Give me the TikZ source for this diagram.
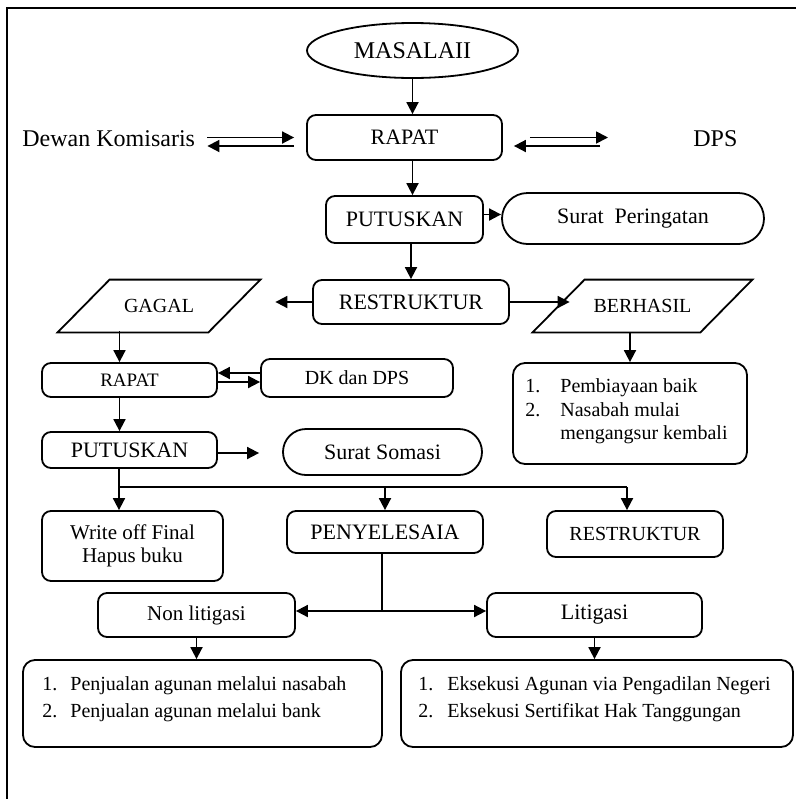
\documentclass[tikz,border=0pt]{standalone}
\usepackage{fontspec}
\setmainfont{Liberation Serif}
\usetikzlibrary{arrows.meta,calc,shapes.geometric,shapes.misc}

\begin{document}
\begin{tikzpicture}[x=0.5pt,y=-0.5pt,
  line/.style={line width=0.9pt},
  arr/.style={line width=0.9pt,-{Triangle[length=6pt,width=6pt]}},
  box/.style={draw,line width=0.9pt,rounded corners=4.5pt,inner sep=0pt,align=center,font=\fontsize{11}{11.7}\selectfont},
  pill/.style={draw,line width=0.9pt,rounded rectangle,inner sep=0pt,font=\fontsize{11}{13}\selectfont},
  listbox/.style={draw,line width=0.9pt,rounded corners=6pt,inner sep=0pt},
  paratext/.style={inner sep=0pt,font=\fontsize{10}{12}\selectfont},
  item/.style={anchor=base west,inner sep=0pt,font=\fontsize{10}{12}\selectfont},
  side/.style={anchor=base west,inner sep=0pt,font=\fontsize{12}{14}\selectfont}]

\path[use as bounding box] (0,0) rectangle (796,799);
\draw[line] (7,799) -- (7,8) -- (796,8);

\node[draw,ellipse,line width=0.9pt,inner sep=0pt,minimum width=105.5pt,minimum height=27.5pt,font=\fontsize{12}{14}\selectfont] (masalah) at (412.5,50.5) {MASALAII};
\node[box,minimum width=97.5pt,minimum height=22.5pt] (rapat1) at (404.5,137.5) {RAPAT};
\node[side] (dewan) at (22,146.7) {Dewan Komisaris};
\node[side] (dps) at (693,146.7) {DPS};
\node[box,minimum width=78.5pt,minimum height=23.5pt] (putus1) at (404.5,219.5) {PUTUSKAN};
\node[pill,minimum width=131pt,minimum height=25.5pt] (peringatan) at (633,218.5) {Surat\ \ Peringatan};
\node[box,minimum width=98pt,minimum height=22pt] (restr1) at (411,302) {RESTRUKTUR};

\node[paratext,minimum width=101pt,minimum height=26pt] (gagal) at (159,306) {GAGAL};
\draw[line] ([xshift=26pt]gagal.north west) -- (gagal.north east) -- ([xshift=-26pt]gagal.south east) -- (gagal.south west) -- cycle;
\node[paratext,minimum width=109.5pt,minimum height=26pt] (berhasil) at (642.5,306) {BERHASIL};
\draw[line] ([xshift=26pt]berhasil.north west) -- (berhasil.north east) -- ([xshift=-26pt]berhasil.south east) -- (berhasil.south west) -- cycle;

\node[listbox,minimum width=117pt,minimum height=50.5pt] (blist) at (630,413.5) {};
\node[item] (b1) at (525,392.7) {\makebox[17.5pt][l]{1.}Pembiayaan baik};
\node[item] (b2) at (525,416.7) {\makebox[17.5pt][l]{2.}Nasabah mulai};
\node[item] (b3) at (560,439) {mengangsur kembali};

\node[box,minimum width=87.5pt,minimum height=17pt,font=\fontsize{9.5}{11}\selectfont] (rapat2) at (129.5,380) {RAPAT};
\node[box,minimum width=96pt,minimum height=19pt,font=\fontsize{10}{12}\selectfont] (dkdps) at (357,378) {DK dan DPS};
\node[box,minimum width=87.5pt,minimum height=18pt] (putus2) at (129.5,450) {PUTUSKAN};
\node[pill,minimum width=99.5pt,minimum height=23pt] (somasi) at (382.5,452) {Surat Somasi};

\node[box,minimum width=90.5pt,minimum height=35pt,font=\fontsize{10.5}{11.7}\selectfont] (writeoff) at (132.5,546) {Write off Final\\Hapus buku};
\node[box,minimum width=98pt,minimum height=21pt] (penyel) at (385,532) {PENYELESAIA};
\node[box,minimum width=88pt,minimum height=23pt,font=\fontsize{10}{12}\selectfont] (restr2) at (635,534) {RESTRUKTUR};

\node[box,minimum width=98.5pt,minimum height=22pt,font=\fontsize{10.5}{12}\selectfont] (nonlit) at (196.5,615) {Non litigasi};
\node[box,minimum width=107.5pt,minimum height=22pt] (lit) at (594.5,615) {Litigasi};

\node[listbox,minimum width=179.5pt,minimum height=43.5pt] (nlist) at (202.5,703.5) {};
\node[item] (n1) at (42,690.7) {\makebox[14pt][l]{1.}Penjualan agunan melalui nasabah};
\node[item] (n2) at (42,717.3) {\makebox[14pt][l]{2.}Penjualan agunan melalui bank};
\node[listbox,minimum width=196pt,minimum height=43.5pt] (llist) at (597,703.5) {};
\node[item] (l1) at (418,690.7) {\makebox[14.5pt][l]{1.}Eksekusi Agunan via Pengadilan Negeri};
\node[item] (l2) at (418,717.3) {\makebox[14.5pt][l]{2.}Eksekusi Sertifikat Hak Tanggungan};

\draw[arr] (masalah.south) -- (masalah.south |- rapat1.north);
\draw[arr] (masalah.south |- rapat1.south) -- (masalah.south |- putus1.north);
\draw[arr] (restr1.north |- putus1.south) -- (restr1.north);
\draw[arr] ($(putus1.east)+(0,-5)$) -- ($(peringatan.west)+(0,-4)$);

\draw[arr] ($(dewan.east |- rapat1.west)+(12,0)$) -- ($(rapat1.west)+(-12,0)$);
\draw[arr] ($(rapat1.west)+(-12,8.5)$) -- ($(dewan.east |- rapat1.west)+(12,8.5)$);
\draw[arr] ($(rapat1.east)+(27,0)$) -- ($(dps.west |- rapat1.east)+(-85,0)$);
\draw[arr] ($(dps.west |- rapat1.east)+(-93,8.5)$) -- ($(rapat1.east)+(11,8.5)$);

\draw[arr,shorten >=7.5pt] (restr1.west) -- (restr1.west -| gagal.east);
\draw[arr] (restr1.east) -- ($(restr1.east -| berhasil.west)+(37,0)$);
\draw[arr] (berhasil.south -| blist.north) -- (blist.north);

\draw[arr] ($(rapat2.north)+(-10,-31)$) -- ($(rapat2.north)+(-10,0)$);
\draw[arr] ($(dkdps.west)+(0,-5)$) -- ($(rapat2.east)+(0,-7)$);
\draw[arr] ($(rapat2.east)+(0,2)$) -- ($(dkdps.west)+(0,4)$);
\draw[arr] ($(rapat2.south)+(-10,0)$) -- ($(putus2.north)+(-10,0)$);
\draw[arr] ($(putus2.east)+(0,3)$) -- ($(somasi.west)+(-23,1)$);

\coordinate (bus) at (119,487);
\coordinate (busend) at (627,487);
\draw[line] (putus2.south -| bus) -- (bus) -- (busend);
\draw[arr] (bus) -- (bus |- writeoff.north);
\draw[arr] (bus -| penyel.north) -- (penyel.north);
\draw[arr] (busend) -- (busend |- restr2.north);

\coordinate (fork) at (382,611);
\draw[line] (penyel.south -| fork) -- (fork);
\draw[arr] (fork) -- (fork -| nonlit.east);
\draw[arr] (fork) -- (fork -| lit.west);
\draw[arr] (nonlit.south) -- (nonlit.south |- nlist.north);
\draw[arr] (lit.south) -- (lit.south |- llist.north);
\end{tikzpicture}
\end{document}
